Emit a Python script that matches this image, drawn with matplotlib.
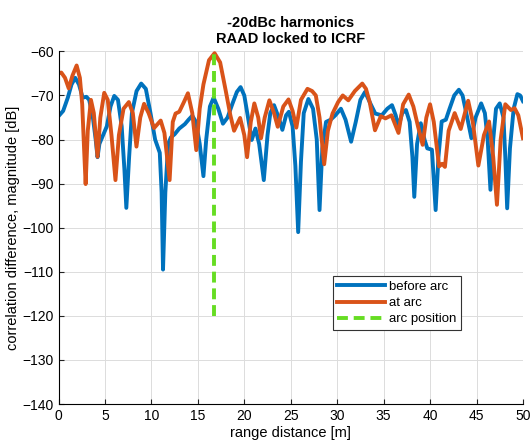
import numpy as np
import matplotlib.pyplot as plt

plt.rcParams['font.family'] = ['Liberation Sans', 'DejaVu Sans']

# before arc (blue)
x_before = [0.0, 0.5, 1.0, 1.4, 1.8, 2.2, 2.6, 3.0, 3.3, 3.7, 4.0, 4.2, 4.4, 4.7, 5.2, 5.6, 6.0, 6.4, 6.8, 7.1,
            7.3, 7.6, 7.9, 8.4, 8.9, 9.4, 9.9, 10.4, 10.9, 11.1, 11.25, 11.5, 11.8, 12.1, 12.5, 13.0, 13.6, 14.0,
            14.4, 14.8, 15.2, 15.6, 15.9, 16.3, 16.7, 17.2, 17.7, 18.2, 18.7, 19.2, 19.6, 20.0, 20.4, 20.8, 21.2,
            21.6, 22.1, 22.5, 22.8, 23.2, 23.7, 24.1, 24.5, 24.8, 25.2, 25.5, 25.8, 26.1, 26.4, 26.9, 27.4, 27.8,
            28.1, 28.4, 28.8, 29.3, 29.8, 30.4, 30.9, 31.5, 32.0, 32.5, 33.0, 33.5, 34.1, 34.8, 35.4, 35.9, 36.3,
            36.6, 37.0, 37.4, 37.8, 38.1, 38.3, 38.6, 39.0, 39.4, 39.7, 40.2, 40.6, 40.9, 41.25, 41.7, 42.1, 42.6,
            43.1, 43.5, 44.0, 44.45, 44.9, 45.5, 45.9, 46.2, 46.5, 46.8, 47.1, 47.5, 47.9, 48.1, 48.3, 48.6, 49.0,
            49.4, 49.7, 50.0]
y_before = [-74.7, -73.5, -70.5, -67.5, -66.0, -67.5, -70.5, -70.3, -71.0, -75.0, -80.0, -84.0, -81.0, -79.5,
            -77.0, -72.5, -70.1, -71.0, -77.0, -87.0, -95.5, -84.0, -74.0, -69.0, -67.3, -68.5, -74.0, -80.0,
            -83.0, -92.0, -109.5, -92.0, -81.0, -79.5, -78.8, -77.5, -76.5, -75.5, -74.6, -76.0, -81.0, -88.3,
            -80.0, -72.5, -70.5, -73.0, -76.4, -75.0, -72.0, -69.2, -68.1, -70.0, -75.0, -80.1, -77.5, -81.0,
            -89.2, -79.0, -74.0, -72.2, -75.0, -77.8, -74.5, -73.7, -77.0, -86.0, -101.0, -85.0, -74.0, -70.8,
            -73.0, -80.0, -96.0, -82.0, -76.0, -75.5, -74.5, -73.0, -75.5, -80.5, -76.0, -71.0, -69.2, -71.5,
            -74.1, -74.5, -73.0, -72.2, -74.5, -77.1, -74.0, -73.3, -76.0, -84.0, -93.0, -81.0, -76.3, -80.0,
            -82.0, -82.3, -96.0, -84.0, -75.9, -75.5, -73.0, -70.0, -68.7, -70.0, -75.0, -79.7, -75.0, -71.8,
            -74.0, -80.0, -91.4, -80.0, -73.0, -71.8, -75.0, -84.0, -95.6, -82.0, -73.0, -69.7, -70.0, -71.3]

# at arc (orange)
x_at = [0.0, 0.3, 0.7, 1.1, 1.5, 1.95, 2.3, 2.55, 2.75, 2.92, 3.15, 3.49, 3.8, 4.2, 4.5, 4.92, 5.3, 5.7, 6.13,
        6.5, 7.0, 7.57, 8.0, 8.39, 8.8, 9.21, 9.7, 10.28, 11.0, 11.4, 11.96, 12.3, 12.6, 13.0, 13.5, 13.93, 14.4,
        14.83, 15.2, 15.6, 16.2, 16.8, 17.4, 18.0, 18.5, 18.9, 19.55, 20.0, 20.3, 20.7, 21.08, 21.5, 21.8, 22.2,
        22.7, 23.2, 23.6, 24.2, 24.76, 25.2, 25.6, 26.1, 26.8, 27.3, 27.7, 28.1, 28.6, 29.0, 29.5, 30.1, 30.6,
        31.2, 31.9, 32.7, 33.1, 33.5, 34.07, 34.7, 35.2, 35.85, 36.6, 37.1, 37.7, 38.2, 38.7, 39.2, 39.6, 40.0,
        40.4, 40.97, 41.3, 41.6, 42.0, 42.65, 43.3, 44.1, 44.6, 45.2, 45.8, 46.35, 46.8, 47.2, 47.6, 48.1, 48.7,
        49.1, 49.5, 50.0]
y_at = [-65.0, -64.8, -66.0, -68.4, -65.5, -63.2, -66.0, -72.0, -82.0, -90.1, -78.0, -71.0, -74.0, -83.9, -75.0,
        -69.4, -71.0, -79.0, -89.2, -79.0, -73.0, -71.5, -74.0, -81.6, -75.0, -71.9, -74.0, -77.4, -75.7, -78.5,
        -89.2, -76.0, -74.1, -73.7, -71.5, -69.5, -74.0, -82.4, -73.0, -67.5, -62.0, -60.4, -62.5, -68.9, -74.5,
        -78.0, -75.1, -79.0, -84.0, -76.0, -71.8, -75.0, -79.7, -75.0, -71.1, -74.0, -77.1, -72.5, -70.9, -73.5,
        -77.3, -71.0, -68.5, -69.0, -70.0, -75.0, -85.6, -78.0, -74.1, -71.5, -70.0, -71.1, -69.0, -67.3, -68.5,
        -71.5, -77.9, -74.7, -75.2, -74.5, -78.5, -72.0, -69.8, -72.5, -77.0, -81.2, -75.0, -72.0, -76.0, -86.1,
        -85.5, -86.2, -78.0, -74.0, -77.6, -71.2, -76.0, -85.9, -79.0, -75.9, -84.0, -94.8, -80.0, -72.0, -73.3,
        -72.9, -74.5, -79.7]

# arc position marker
arc_x = [16.7, 16.7]
arc_y = [-120, -60]

fig = plt.figure(figsize=(5.32, 4.43), dpi=100)
ax = fig.add_axes([0.110, 0.088, 0.873, 0.796])

ax.plot(x_before, y_before, color='#0072BD', lw=2.8, solid_joinstyle='round', label='before arc')
ax.plot(x_at, y_at, color='#D95319', lw=2.8, solid_joinstyle='round', label='at arc')
ax.plot(arc_x, arc_y, color='#66DD22', lw=2.8, ls=(0, (2.8, 1.5)), label='arc position')

ax.set_xlim(0, 50)
ax.set_ylim(-140, -60)
ax.set_xticks(np.arange(0, 51, 5))
ax.set_yticks(np.arange(-140, -59, 10))
ax.grid(True, color='#DCDCDC', lw=0.7)
ax.set_axisbelow(True)
for s in ['top', 'right']:
    ax.spines[s].set_visible(False)
ax.tick_params(direction='in', length=3.5, labelsize=10, color='#222222')

ax.set_title('-20dBc harmonics\nRAAD locked to ICRF', fontsize=10.5, fontweight='bold', pad=6)
ax.set_xlabel('range distance [m]', fontsize=10.5, labelpad=2)
ax.set_ylabel('correlation difference, magnitude [dB]', fontsize=10.5, labelpad=2)

leg = ax.legend(loc='lower left', bbox_to_anchor=(0.59, 0.21), fontsize=9.5, fancybox=False,
                framealpha=1, edgecolor='#333333', handlelength=3.6, borderpad=0.35, labelspacing=0.3,
                handletextpad=0.3, borderaxespad=0)
leg.get_frame().set_linewidth(0.8)

fig.savefig('out.png', dpi=100)
